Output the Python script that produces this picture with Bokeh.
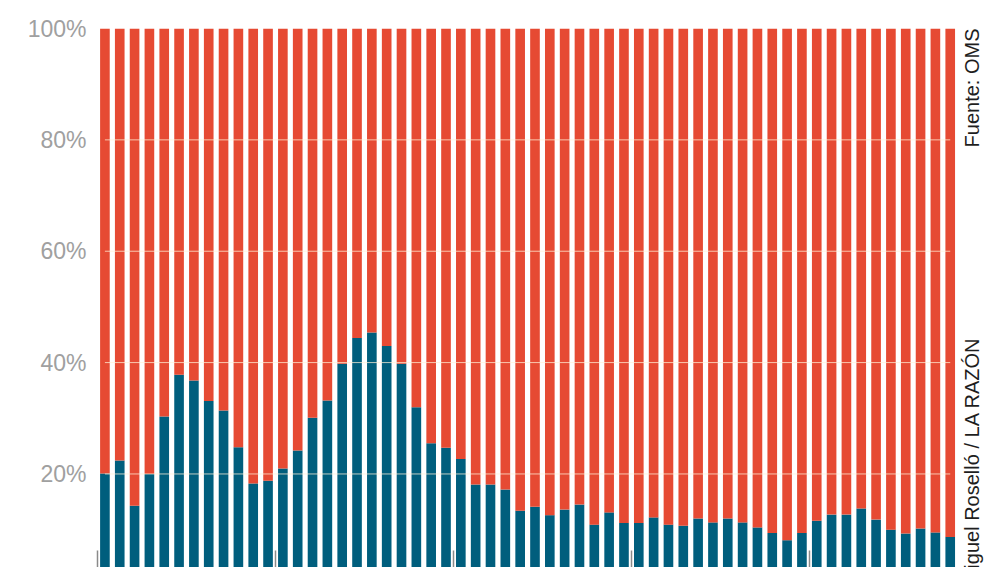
import math
from bokeh.plotting import figure
from bokeh.models import (ColumnDataSource, Range1d, FixedTicker, PrintfTickFormatter,
                          Label, CustomJSTickFormatter)
from bokeh.embed import file_html
from bokeh.resources import INLINE

# ---- data (percent of total) ----
periodo = list(range(58))
azul = [20.1, 22.4, 14.3, 20.0, 30.3, 37.8, 36.8, 33.1, 31.4, 24.8,
        18.3, 18.8, 21.0, 24.2, 30.1, 33.2, 39.8, 44.4, 45.4, 43.0,
        39.8, 32.0, 25.5, 24.7, 22.7, 18.1, 18.1, 17.2, 13.4, 14.1,
        12.6, 13.6, 14.5, 10.9, 13.1, 11.2, 11.2, 12.2, 10.9, 10.7,
        12.0, 11.3, 12.0, 11.3, 10.4, 9.4, 8.1, 9.4, 11.6, 12.7,
        12.7, 13.8, 11.8, 10.0, 9.3, 10.2, 9.5, 8.7]
rojo = [100 - v for v in azul]
inicio_anio = [0, 12, 24, 36, 48]
y_ticks = [20, 40, 60, 80, 100]
fuente = "Fuente: OMS"
credito = "Miguel Roselló / LA RAZÓN"

AZUL = "#005E7D"
ROJO = "#E64A33"

W, H = 1000, 567
LEFT, TOP = 97, 28
STEP = 14.83  # pixels per period

src = ColumnDataSource(dict(periodo=periodo, azul=azul, rojo=rojo))

x_end = -0.5 + (W - LEFT) / STEP
p = figure(width=W, height=H, output_backend="svg", toolbar_location=None,
           title=None, x_range=Range1d(-0.5, x_end),
           y_range=Range1d(3.2, 100),
           min_border_left=LEFT, min_border_right=0, min_border_top=TOP,
           min_border_bottom=0)

p.vbar_stack(["azul", "rojo"], x="periodo", width=0.65, color=[AZUL, ROJO],
             line_color=None, source=src)

# grid lines drawn over the bars, from the first to the last bar centre
grid_src = ColumnDataSource(dict(x0=[periodo[0]] * 4, x1=[periodo[-1]] * 4,
                                 y=y_ticks[:-1]))
p.segment(x0="x0", x1="x1", y0="y", y1="y", source=grid_src,
          line_color="#fff2d8", line_alpha=0.75, line_width=1)

p.xgrid.visible = False
p.ygrid.visible = False
p.outline_line_color = None
p.background_fill_color = "white"
p.border_fill_color = "white"

# y axis
p.yaxis.ticker = FixedTicker(ticks=y_ticks)
p.yaxis.formatter = PrintfTickFormatter(format="%d%%")
p.yaxis.axis_line_color = None
p.yaxis.major_tick_line_color = None
p.yaxis.minor_tick_line_color = None
p.yaxis.major_tick_in = 0
p.yaxis.major_tick_out = 0
p.yaxis.major_label_standoff = 11
p.yaxis.major_label_text_font = "Liberation Sans"
p.yaxis.major_label_text_font_size = "23px"
p.yaxis.major_label_text_color = "#a0a0a0"

# x axis: only year-boundary ticks, no labels
p.xaxis.ticker = FixedTicker(ticks=[i - 0.5 for i in inicio_anio])
p.xaxis.formatter = CustomJSTickFormatter(code="return ''")
p.xaxis.axis_line_color = None
p.xaxis.minor_tick_line_color = None
p.xaxis.major_tick_in = 17
p.xaxis.major_tick_out = 0
p.xaxis.major_tick_line_color = "#8a8a8a"
p.xaxis.major_tick_line_width = 1.5
p.xaxis.major_label_text_font_size = "1px"
p.xaxis.major_label_standoff = 0

p.add_layout(Label(x=periodo[-1], y=100, x_offset=22, text=fuente, angle=math.pi / 2,
                   text_align="right", text_baseline="alphabetic",
                   text_font="Liberation Sans", text_font_size="20px",
                   text_color="#1e1e1e"))
p.add_layout(Label(x=periodo[-1], y=0, x_offset=22, text=credito, angle=math.pi / 2,
                   text_align="left", text_baseline="alphabetic",
                   text_font="Liberation Sans", text_font_size="20px",
                   text_color="#1e1e1e"))

open("out.html", "w").write(file_html(p, INLINE))
